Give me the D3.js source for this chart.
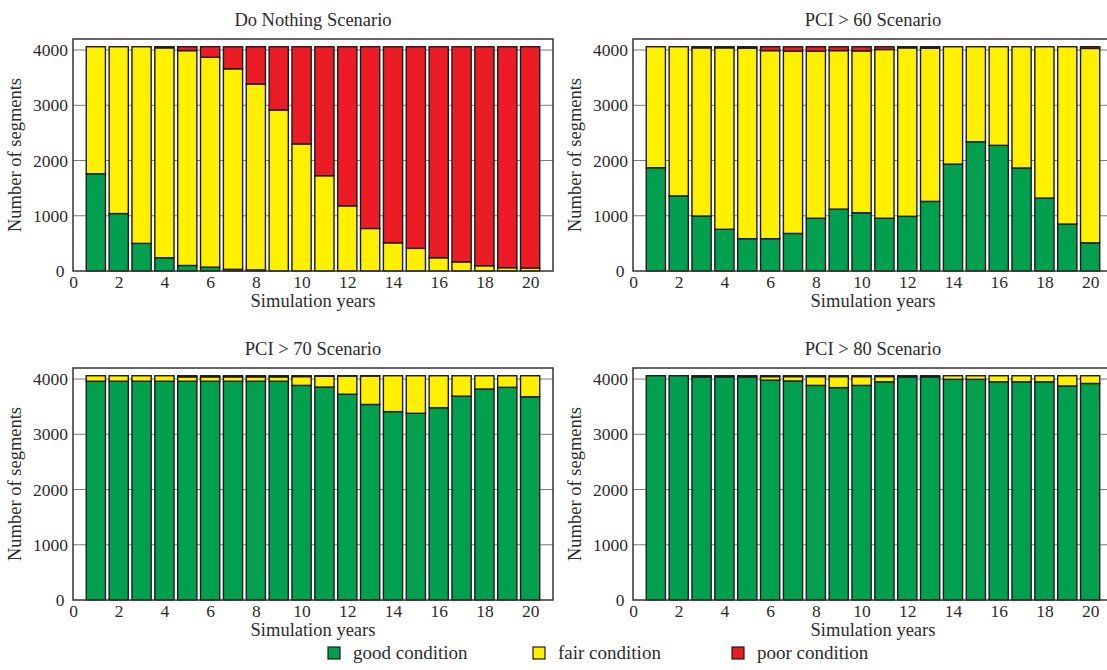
<!DOCTYPE html>
<html>
<head>
<meta charset="utf-8">
<script src="https://cdn.jsdelivr.net/npm/d3@7"></script>
<style>
  body { margin: 0; background: #fff; }
  text { font-family: "Liberation Serif", "Times New Roman", serif; fill: #2b2b2b; }
</style>
</head>
<body>
<svg class="chart"></svg>
<script>
let width = 1107
let height = 670

// simulation years (categories)
let years = [1, 2, 3, 4, 5, 6, 7, 8, 9, 10, 11, 12, 13, 14, 15, 16, 17, 18, 19, 20]
let xTicks = [0, 2, 4, 6, 8, 10, 12, 14, 16, 18, 20]
let yTicks = [0, 1000, 2000, 3000, 4000]
let conditions = ['good', 'fair', 'poor']
let legendLabels = ['good condition', 'fair condition', 'poor condition']

// Do Nothing Scenario
let nothingGood = [1760, 1040, 500, 240, 100, 70, 30, 20, 0, 0, 0, 0, 0, 0, 0, 0, 0, 0, 0, 0]
let nothingFair = [2300, 3020, 3560, 3800, 3890, 3800, 3630, 3365, 2915, 2300, 1725, 1180, 770, 510, 410, 240, 165, 95, 60, 55]
let nothingPoor = [0, 0, 0, 20, 70, 190, 400, 675, 1145, 1760, 2335, 2880, 3290, 3550, 3650, 3820, 3895, 3965, 4000, 4005]

// PCI > 60 Scenario
let pci60Good = [1870, 1360, 995, 755, 585, 585, 680, 955, 1120, 1055, 955, 990, 1260, 1935, 2340, 2275, 1865, 1320, 850, 510]
let pci60Fair = [2190, 2700, 3045, 3285, 3450, 3405, 3300, 3025, 2870, 2930, 3055, 3050, 2775, 2125, 1720, 1785, 2195, 2740, 3210, 3520]
let pci60Poor = [0, 0, 20, 20, 25, 70, 80, 80, 70, 75, 50, 20, 25, 0, 0, 0, 0, 0, 0, 30]

// PCI > 70 Scenario
let pci70Good = [3960, 3960, 3960, 3960, 3960, 3960, 3960, 3960, 3960, 3885, 3855, 3725, 3540, 3410, 3380, 3480, 3690, 3820, 3850, 3680]
let pci70Fair = [100, 100, 100, 100, 80, 80, 80, 80, 80, 160, 195, 330, 515, 650, 680, 580, 370, 240, 210, 380]
let pci70Poor = [0, 0, 0, 0, 20, 20, 20, 20, 20, 15, 10, 5, 5, 0, 0, 0, 0, 0, 0, 0]

// PCI > 80 Scenario
let pci80Good = [4060, 4060, 4040, 4040, 4040, 3980, 3965, 3885, 3845, 3885, 3950, 4040, 4040, 3995, 3995, 3950, 3950, 3950, 3875, 3920]
let pci80Fair = [0, 0, 0, 0, 0, 65, 80, 160, 200, 160, 95, 0, 0, 65, 65, 110, 110, 110, 185, 140]
let pci80Poor = [0, 0, 20, 20, 20, 15, 15, 15, 15, 15, 15, 20, 20, 0, 0, 0, 0, 0, 0, 0]

let panels = [
  { title: 'Do Nothing Scenario', good: nothingGood, fair: nothingFair, poor: nothingPoor, left: 73, top: 39 },
  { title: 'PCI > 60 Scenario', good: pci60Good, fair: pci60Fair, poor: pci60Poor, left: 633, top: 39 },
  { title: 'PCI > 70 Scenario', good: pci70Good, fair: pci70Fair, poor: pci70Poor, left: 73, top: 368 },
  { title: 'PCI > 80 Scenario', good: pci80Good, fair: pci80Fair, poor: pci80Poor, left: 633, top: 368 }
]

let plotW = 480
let plotH = 232
let barW = 0.84

let color = d3.scaleOrdinal()
  .domain(conditions)
  .range(['#00a04e', '#fff000', '#ec1c24'])

let svg = d3.select('.chart')
  .attr('width', width)
  .attr('height', height)

let x = d3.scaleLinear()
  .domain([0, 21])
  .range([0, plotW])

let y = d3.scaleLinear()
  .domain([0, 4200])
  .range([plotH, 0])

let stack = d3.stack().keys(conditions)

panels.forEach((p) => {
  let rows = years.map((yr, i) => {
    return { year: yr, good: p.good[i], fair: p.fair[i], poor: p.poor[i] }
  })

  let g = svg.append('g')
    .attr('transform', `translate(${p.left}, ${p.top})`)

  // horizontal grid
  g.selectAll('.grid')
    .data(yTicks.slice(1))
    .enter()
    .append('line')
    .attr('x1', 0)
    .attr('x2', plotW)
    .attr('y1', (d) => y(d))
    .attr('y2', (d) => y(d))
    .attr('stroke', '#7a7a7a')
    .attr('stroke-width', 1)

  let layers = g.selectAll('.layer')
    .data(stack(rows))
    .enter()
    .append('g')
    .attr('fill', (d) => color(d.key))

  layers.selectAll('rect')
    .data((d) => d.filter((s) => s[1] - s[0] > 0))
    .enter()
    .append('rect')
    .attr('x', (d) => x(d.data.year - barW / 2))
    .attr('width', x(barW) - x(0))
    .attr('y', (d) => y(d[1]))
    .attr('height', (d) => y(d[0]) - y(d[1]))
    .attr('stroke', '#1c1c1c')
    .attr('stroke-width', 1.4)

  // frame
  g.append('rect')
    .attr('width', plotW)
    .attr('height', plotH)
    .attr('fill', 'none')
    .attr('stroke', '#333')
    .attr('stroke-width', 1.5)

  let xAxis = g.append('g')
    .attr('transform', `translate(0, ${plotH})`)
    .call(d3.axisBottom(x).tickValues(xTicks).tickFormat(d3.format('d')).tickSize(0).tickPadding(5))
  xAxis.select('.domain').remove()
  xAxis.selectAll('text')
    .attr('font-size', 17.5)
    .attr('fill', '#2b2b2b')

  let yAxis = g.append('g')
    .call(d3.axisLeft(y).tickValues(yTicks).tickFormat(d3.format('d')).tickSize(0).tickPadding(5))
  yAxis.select('.domain').remove()
  yAxis.selectAll('text')
    .attr('font-size', 17.5)
    .attr('fill', '#2b2b2b')
    .attr('dx', (d) => d === 0 ? '-0.2em' : 0)

  g.append('text')
    .attr('x', plotW / 2)
    .attr('y', -13)
    .attr('text-anchor', 'middle')
    .attr('font-size', 18.5)
    .text(p.title)

  g.append('text')
    .attr('x', plotW / 2)
    .attr('y', plotH + 36)
    .attr('text-anchor', 'middle')
    .attr('font-size', 18.5)
    .text('Simulation years')

  g.append('text')
    .attr('transform', `translate(${-52}, ${plotH / 2}) rotate(-90)`)
    .attr('text-anchor', 'middle')
    .attr('font-size', 18.5)
    .text('Number of segments')
})

// legend
let legendX = [328, 533, 732]
let legend = svg.selectAll('.legend')
  .data(conditions)
  .enter()
  .append('g')
  .attr('transform', (d, i) => `translate(${legendX[i]}, 647)`)

legend.append('rect')
  .attr('width', 12)
  .attr('height', 12)
  .attr('fill', (d) => color(d))
  .attr('stroke', '#1c1c1c')
  .attr('stroke-width', 1.2)

legend.append('text')
  .attr('x', 25)
  .attr('y', 12)
  .attr('font-size', 19)
  .text((d, i) => legendLabels[i])
</script>
</body>
</html>
